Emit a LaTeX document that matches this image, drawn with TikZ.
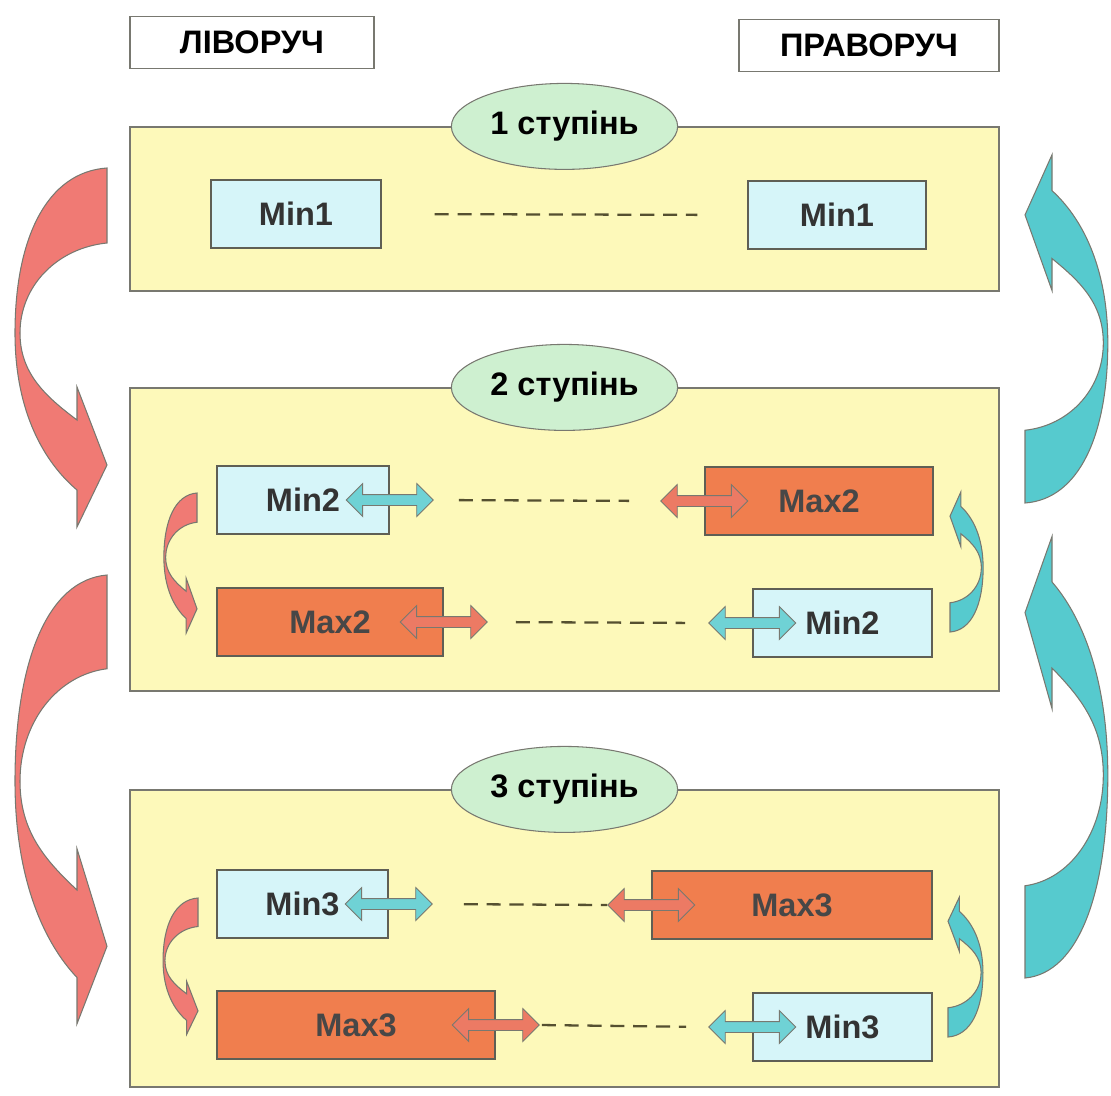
\documentclass[tikz,border=0pt]{standalone}
\usepackage{fontspec}
\setmainfont{Liberation Sans}
\usetikzlibrary{shapes.geometric,shapes.arrows}

\definecolor{panelyellow}{RGB}{253,249,186}
\definecolor{stagegreen}{RGB}{206,240,208}
\definecolor{minblue}{RGB}{214,245,249}
\definecolor{maxorange}{RGB}{240,126,78}
\definecolor{leftred}{RGB}{240,122,116}
\definecolor{rightcyan}{RGB}{86,202,206}
\definecolor{swapred}{RGB}{236,122,100}
\definecolor{edgegray}{RGB}{120,120,112}
\definecolor{boxedge}{RGB}{95,95,85}
\definecolor{gapcol}{RGB}{85,80,48}

\newcommand{\boxfont}{\fontsize{18.5}{22}\selectfont\bfseries}

\tikzset{
  panel/.style={draw=edgegray, line width=0.7pt, fill=panelyellow, minimum width=17.38cm, inner sep=0pt},
  stage/.style={ellipse, draw=edgegray, line width=0.6pt, fill=stagegreen, minimum width=4.52cm, minimum height=1.72cm, font=\boxfont},
  side/.style={draw=edgegray, line width=0.7pt, fill=white, minimum height=1.04cm, font=\boxfont},
  minbox/.style={draw=boxedge, line width=0.8pt, fill=minblue, minimum height=1.36cm, inner sep=0pt, font=\boxfont, text=black!80},
  maxbox/.style={minbox, fill=maxorange, text=black!72},
  swapbase/.style={double arrow, draw=edgegray, line width=0.5pt, inner sep=0.1cm, double arrow head extend=0.22cm, minimum height=1.74cm},
  swapc/.style={swapbase, fill=rightcyan!85},
  swapr/.style={swapbase, fill=swapred},
  gap/.style={gapcol, line width=1.3pt, dash pattern=on 8pt off 5pt},
  bendline/.style={draw=edgegray, line width=0.6pt},
  %% curved block arrow, origin at the outer end of the tail
  bendarrow/.pic={
    \path[pic actions] (0,0) .. controls (-60,4) and (-92,70) .. (-92,165)
      .. controls (-92,245) and (-62,295) .. (-30,322) -- (-30,359) -- (0,297)
      -- (-30,219) -- (-30,252) .. controls (-62,228) and (-87,205) .. (-87,165)
      .. controls (-87,118) and (-50,80) .. (0,75) -- cycle;
  }
}

\begin{document}
\begin{tikzpicture}[x=0.02cm, y=-0.02cm]
  \useasboundingbox (0,0) rectangle (1111,1095);

  \node[side, minimum width=4.88cm] (left) at (252,42.5) {ЛІВОРУЧ};
  \node[side, minimum width=5.2cm] (right) at (869,45.5) {ПРАВОРУЧ};

  %% stages
  \node[panel, minimum height=3.28cm] (p1) at (564.5,209) {};
  \node[panel, minimum height=6.06cm] (p2) at (564.5,539.5) {};
  \node[panel, minimum height=5.94cm] (p3) at (564.5,938.5) {};
  \node[stage] (s1) at (p1.north) {1 ступінь};
  \node[stage] (s2) at (p2.north) {2 ступінь};
  \node[stage] (s3) at (p3.north) {3 ступінь};

  %% 1 ступінь
  \node[minbox, minimum width=3.4cm] (min1l) at (296,214) {Min1};
  \node[minbox, minimum width=3.56cm] (min1r) at (837,215) {Min1};
  \draw[gap, shorten <=1.06cm, shorten >=1cm] (min1l.east) -- (min1r.west);

  %% 2 ступінь
  \node[minbox, minimum width=3.44cm] (min2l) at (303,500) {Min2};
  \node[maxbox, minimum width=4.56cm] (max2r) at (819,501) {Max2};
  \node[maxbox, minimum width=4.52cm] (max2l) at (330,622) {Max2};
  \node[minbox, minimum width=3.58cm] (min2r) at (842.5,623) {Min2};
  \node[swapc] (a21) at (min2l.east) {};
  \node[swapr] (b21) at (max2r.west) {};
  \node[swapr] (a22) at (max2l.east) {};
  \node[swapc] (b22) at (min2r.west) {};
  \draw[gap, shorten <=0.5cm, shorten >=0.62cm] (a21.east) -- (b21.west);
  \draw[gap, shorten <=0.56cm, shorten >=0.46cm] (a22.east) -- (b22.west);

  %% 3 ступінь
  \node[minbox, minimum width=3.42cm] (min3l) at (302.5,904) {Min3};
  \node[maxbox, minimum width=5.6cm] (max3r) at (792,905) {Max3};
  \node[maxbox, minimum width=5.56cm] (max3l) at (356,1025) {Max3};
  \node[minbox, minimum width=3.58cm] (min3r) at (842.5,1027) {Min3};
  \node[swapc] (a31) at (min3l.east) {};
  \node[swapr] (b31) at (max3r.west) {};
  \node[swapr] (a32) at (max3l.east) {};
  \node[swapc] (b32) at (min3r.west) {};
  \draw[gap, shorten <=0.62cm] (a31.east) -- (b31.west);
  \draw[gap, shorten <=0.04cm, shorten >=0.44cm] (a32.east) -- (b32.west);

  %% big curved arrows between the stages
  \pic[bendline, fill=leftred] at (107,168) {bendarrow};
  \pic[bendline, fill=leftred, yscale=1.25] at (107,575) {bendarrow};
  \pic[bendline, fill=rightcyan, rotate=180, xscale=0.9, yscale=0.97] at (1025,503) {bendarrow};
  \pic[bendline, fill=rightcyan, rotate=180, xscale=0.9, yscale=1.23] at (1025,978) {bendarrow};

  %% small curved arrows inside the stages
  \pic[bendline, fill=leftred, xscale=0.36, yscale=0.39] at (197,493) {bendarrow};
  \pic[bendline, fill=leftred, xscale=0.38, yscale=0.38] at (198,898) {bendarrow};
  \pic[bendline, fill=rightcyan, rotate=180, xscale=0.36, yscale=0.39] at (950,632) {bendarrow};
  \pic[bendline, fill=rightcyan, rotate=180, xscale=0.38, yscale=0.39] at (948,1037) {bendarrow};
\end{tikzpicture}
\end{document}
